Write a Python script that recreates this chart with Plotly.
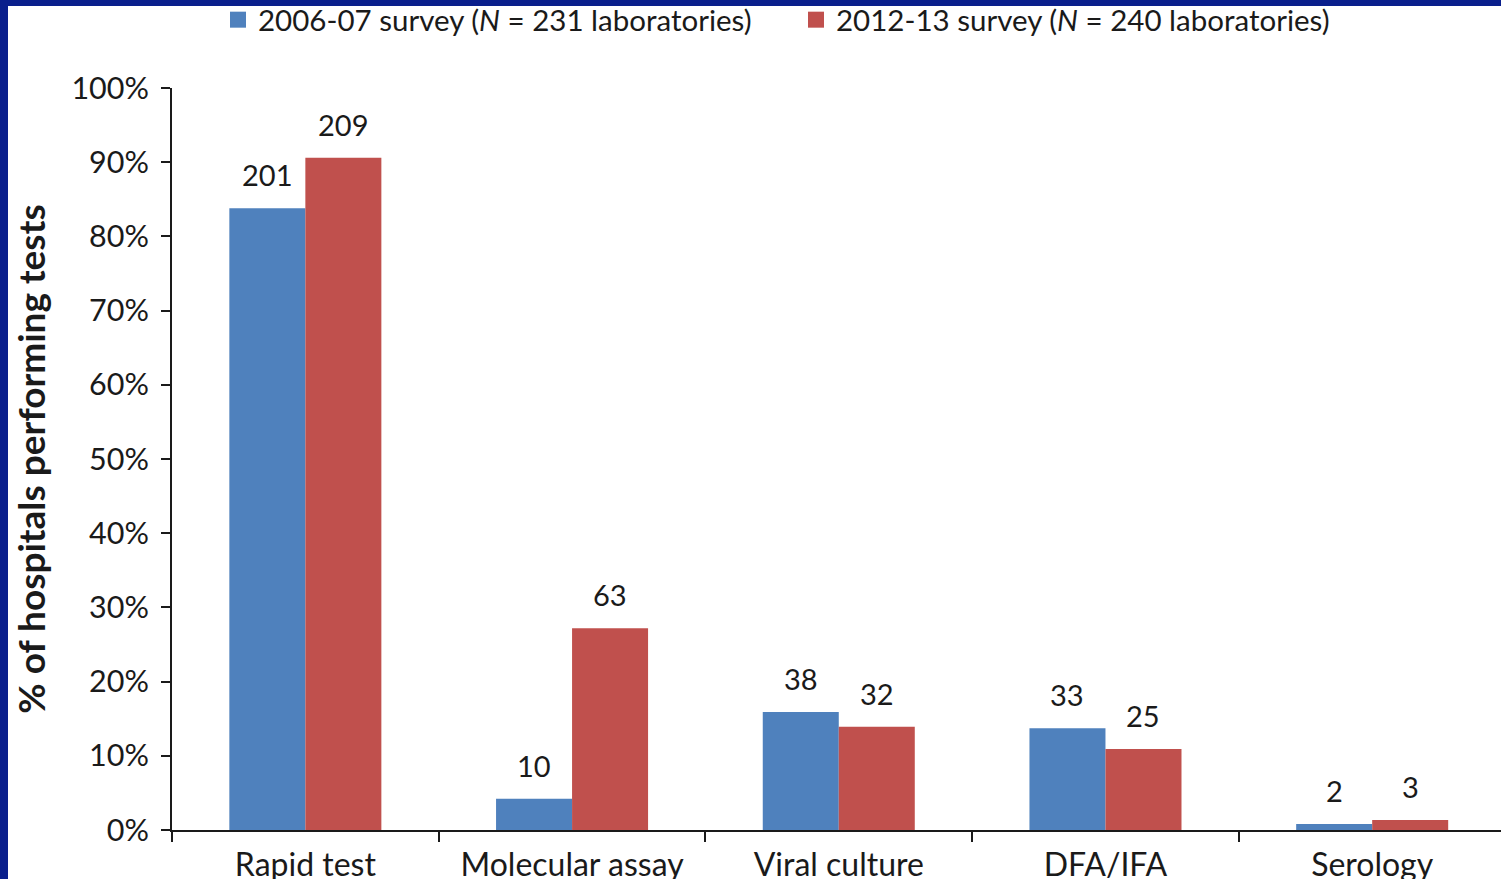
import plotly.graph_objects as go

categories = ["Rapid test", "Molecular assay", "Viral culture", "DFA/IFA", "Serology"]
pct_2006 = [83.8, 4.2, 15.9, 13.7, 0.8]
pct_2012 = [90.6, 27.2, 13.9, 10.9, 1.35]
n_2006 = [201, 10, 38, 33, 2]
n_2012 = [209, 63, 32, 25, 3]
series_names = ["2006-07 survey (<i>N</i> = 231 laboratories)",
                "2012-13 survey (<i>N</i> = 240 laboratories)"]
colors = ["#4f81bd", "#c0504d"]

W, H = 1501, 879
L, R, T, B = 172, 0, 88, 49
pw, ph = W - L - R, H - T - B

FONT = "Lato"
TXT = "#1a1a1a"

fig = go.Figure()
for name, vals, col in zip(series_names, [pct_2006, pct_2012], colors):
    fig.add_trace(go.Bar(x=categories, y=vals, name=name, marker_color=col,
                         marker_line_width=0, showlegend=False))
for name, col in zip(series_names, colors):
    fig.add_trace(go.Scatter(x=[None], y=[None], mode="markers", name=name,
                             marker=dict(symbol="square", size=16, color=col)))

annotations = []
for vals, counts, shift in [(pct_2006, n_2006, -38), (pct_2012, n_2012, 38)]:
    for c, v, n in zip(categories, vals, counts):
        annotations.append(dict(x=c, y=v, text=str(n), showarrow=False,
                                xshift=shift, yshift=14, yanchor="bottom",
                                font=dict(size=29, color=TXT, family=FONT)))

def px_x(p):
    return (p - L) / pw

def px_y(p):
    return (H - B - p) / ph

border = "#0a1f8c"
shapes = [
    dict(type="rect", xref="paper", yref="paper", x0=px_x(0), x1=px_x(W + 2),
         y0=px_y(6), y1=px_y(-2), fillcolor=border, line_width=0, layer="above"),
    dict(type="rect", xref="paper", yref="paper", x0=px_x(-2), x1=px_x(8),
         y0=px_y(H + 2), y1=px_y(-2), fillcolor=border, line_width=0, layer="above"),
]

fig.update_layout(
    width=W, height=H,
    margin=dict(l=L, r=R, t=T, b=B, pad=0, autoexpand=False),
    paper_bgcolor="white", plot_bgcolor="white",
    font=dict(family=FONT, color=TXT),
    barmode="group", bargap=0.43, bargroupgap=0,
    showlegend=True,
    legend=dict(orientation="h", x=px_x(218), y=px_y(-6), xanchor="left", yanchor="top",
                font=dict(size=29.5, family=FONT, color=TXT),
                itemsizing="trace", bgcolor="rgba(0,0,0,0)", traceorder="normal",
                entrywidth=533),
    annotations=annotations,
    shapes=shapes,
    xaxis=dict(range=[-0.5, 4.483], showline=True, linecolor=TXT, linewidth=2,
               ticks="outside", tickson="boundaries", ticklen=10, tickwidth=2,
               tickcolor=TXT, showgrid=False, ticklabelstandoff=6, automargin=False,
               tickfont=dict(size=32, family=FONT, color=TXT)),
    yaxis=dict(range=[0, 100], dtick=10, ticksuffix="%", showline=True,
               linecolor=TXT, linewidth=2, ticks="outside", ticklen=9,
               tickwidth=2, tickcolor=TXT, showgrid=False, zeroline=False,
               ticklabelstandoff=6, automargin=False,
               tickfont=dict(size=30.5, family=FONT, color=TXT),
               title=dict(text="<b>% of hospitals performing tests</b>",
                          font=dict(size=37, family=FONT, color=TXT), standoff=14)),
)

fig.write_html("out.html", config={"displayModeBar": False},
               post_script="document.body.style.margin='0';")
